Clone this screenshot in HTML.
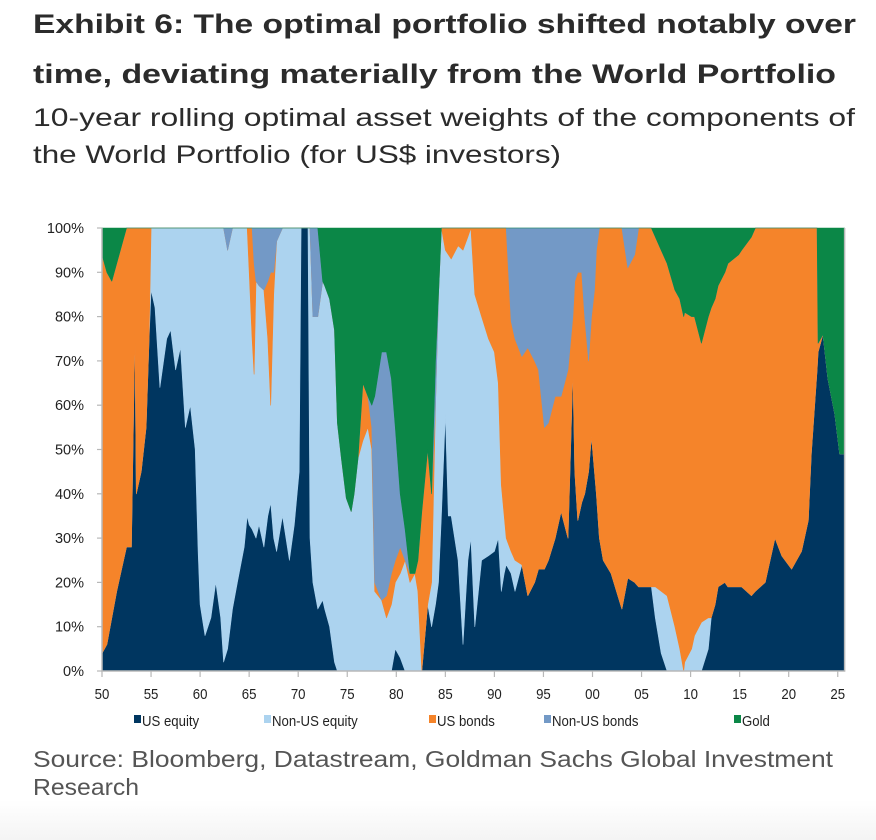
<!DOCTYPE html>
<html><head><meta charset="utf-8"><style>
html,body{margin:0;padding:0;background:#fff;}
svg{display:block;}
</style></head><body>
<svg id="chart" width="876" height="840" viewBox="0 0 876 840" xmlns="http://www.w3.org/2000/svg">
<defs><linearGradient id="bg" x1="0" y1="0" x2="0" y2="1"><stop offset="0" stop-color="#ffffff"/><stop offset="1" stop-color="#f4f4f4"/></linearGradient></defs>
<rect x="0" y="800" width="876" height="40" fill="url(#bg)"/>
<g font-family="Liberation Sans, sans-serif" fill="#2b2b2b">
<text x="33" y="33" font-size="27" font-weight="bold" textLength="823" lengthAdjust="spacingAndGlyphs">Exhibit 6: The optimal portfolio shifted notably over</text>
<text x="33" y="83" font-size="27" font-weight="bold" textLength="803" lengthAdjust="spacingAndGlyphs">time, deviating materially from the World Portfolio</text>
<text x="33" y="126" font-size="25" textLength="822" lengthAdjust="spacingAndGlyphs">10-year rolling optimal asset weights of the components of</text>
<text x="33" y="163" font-size="25" textLength="528" lengthAdjust="spacingAndGlyphs">the World Portfolio (for US$ investors)</text>
</g>
<g font-family="Liberation Sans, sans-serif" fill="#555">
<text x="33" y="767" font-size="23" textLength="800" lengthAdjust="spacingAndGlyphs">Source: Bloomberg, Datastream, Goldman Sachs Global Investment</text>
<text x="33" y="795" font-size="23" textLength="106" lengthAdjust="spacingAndGlyphs">Research</text>
</g>
<g id="plot"></g>
<g id="axes"></g>
<g id="legend"></g>
</svg>
<script>
const years=[1950,1950.5,1951,1951.5,1952,1952.5,1953,1953.35,1953.5,1954,1954.5,1954.8,1955,1955.4,1955.9,1956.6,1957,1957.5,1958,1958.5,1959,1959.5,1959.8,1960,1960.5,1961.1,1961.6,1962.1,1962.4,1962.8,1963.3,1963.8,1964.5,1964.8,1965,1965.3,1965.5,1965.7,1966,1966.5,1966.9,1967.2,1967.5,1967.8,1968.4,1969.1,1969.6,1970.1,1970.3,1971,1971.2,1971.5,1972,1972.5,1972.7,1973.2,1973.7,1974,1974.4,1974.9,1975.4,1975.7,1976.1,1976.6,1977.1,1977.5,1977.8,1978.5,1979,1979.5,1979.9,1980.4,1980.9,1981.4,1981.9,1982.2,1982.6,1983.2,1983.6,1984,1984.3,1984.6,1985,1985.3,1985.6,1986.3,1986.8,1987.3,1987.6,1988,1988.7,1989.4,1990,1990.4,1990.7,1991,1991.2,1991.7,1992.1,1992.8,1993.4,1994.1,1994.5,1995.1,1995.5,1996.2,1996.8,1997.5,1998,1998.2,1998.5,1998.9,1999.2,1999.6,1999.9,2000.2,2000.4,2000.7,2001.1,2001.9,2003,2003.6,2004.3,2004.7,2005.7,2006,2006.4,2007,2007.6,2008.4,2008.9,2009.3,2009.4,2010.1,2010.4,2011.1,2011.8,2012.1,2012.5,2012.8,2013.5,2013.8,2014.9,2015.2,2016.2,2016.6,2017.6,2018.6,2019.3,2020.3,2021.3,2022,2022.3,2022.9,2023,2023.5,2024,2024.7,2025.2,2025.7];
const usEquity=[4,6,12,18,23,28,28,77,40,45,55,75,86,82,64,75,77,68,73,55,60,50,27,15,8,12,20,12,2,5,14,20,28,35,33,32,31,30,33,28,35,38,30,27,35,25,33,45,100,100,30,20,14,16,14,10,2,0,0,0,0,0,0,0,0,0,0,0,0,0,5,3,0,0,0,0,0,15,10,15,20,35,58,35,35,25,6,25,30,10,25,26,27,30,18,22,24,22,18,24,17,20,23,23,25,30,36,30,68,45,34,38,40,45,53,45,40,30,25,22,14,21,20,19,19,19,12,4,0,0,0,0,0,0,0,0,5,12,15,19,20,19,19,19,17,18,20,30,26,23,27,34,49,68,72,76,66,58,49,49];
const nonUsEquity=[0,0,0,0,0,0,0,0,0,0,0,0,14,18,36,25,23,32,27,45,40,50,73,85,92,88,80,88,98,90,86,80,72,65,57,43,36,58,54,58,40,22,55,70,65,75,67,55,0,0,70,60,66,72,73,74,75,56,48,39,36,40,48,52,55,50,18,16,12,15,15,19,25,20,22,18,0,0,10,45,65,65,37,59,58,71,89,73,70,75,55,49,45,35,24,13,6,5,7,0,0,0,0,0,0,0,0,0,0,0,0,0,0,0,0,0,0,0,0,0,0,0,0,0,0,0,7,14,17,10,5,0,2,5,8,11,7,0,0,0,0,0,0,0,0,0,0,0,0,0,0,0,0,0,0,0,0,0,0,0,0];
const usBonds=[90,84,76,74,73,72,72,23,60,55,45,25,0,0,0,0,0,0,0,0,0,0,0,0,0,0,0,0,0,0,0,0,0,0,10,25,25,0,0,0,13,30,5,0,0,0,0,0,0,0,0,0,0,0,0,0,0,0,0,0,0,0,0,13,7,5,2,0,5,7,5,6,0,2,0,7,36,35,20,0,0,0,5,6,7,4,5,2,0,15,20,25,28,35,58,65,70,52,50,47,56,50,45,32,31,32,26,38,12,43,56,52,40,25,27,41,55,70,75,78,86,70,74,81,81,81,79,77,75,76,79,80,79,75,72,63,68,70,69,68,70,73,75,76,81,82,80,70,74,77,73,66,51,32,2,0,0,0,0,0];
const nonUsBonds=[0,0,0,0,0,0,0,0,0,0,0,0,0,0,0,0,0,0,0,0,0,0,0,0,0,0,0,0,0,5,0,0,0,0,0,0,8,12,13,14,12,10,10,3,0,0,0,0,0,0,0,20,20,0,0,0,0,0,0,0,0,0,0,0,0,5,42,56,55,44,30,12,7,0,0,0,0,0,0,10,0,0,0,0,0,0,0,0,0,0,0,0,0,0,0,0,0,21,25,29,27,30,32,45,44,38,38,32,20,12,10,10,20,30,20,14,5,0,0,0,0,9,6,0,0,0,0,0,0,0,0,0,0,0,0,0,0,0,0,0,0,0,0,0,0,0,0,0,0,0,0,0,0,0,0,0,0,0,0,0,0];
const gold=[6,10,12,8,4,0,0,0,0,0,0,0,0,0,0,0,0,0,0,0,0,0,0,0,0,0,0,0,0,0,0,0,0,0,0,0,0,0,0,0,0,0,0,0,0,0,0,0,0,0,0,0,0,12,13,16,23,44,52,61,64,60,52,35,38,40,38,28,28,34,45,60,68,78,78,75,64,50,60,30,15,0,0,0,0,0,0,0,0,0,0,0,0,0,0,0,0,0,0,0,0,0,0,0,0,0,0,0,0,0,0,0,0,0,0,0,0,0,0,0,0,0,0,0,0,0,2,5,8,14,16,20,19,20,20,26,20,18,16,13,10,8,6,5,2,0,0,0,0,0,0,0,0,0,26,24,34,42,51,51];
const seriesNames=["US equity","Non-US equity","US bonds","Non-US bonds","Gold"];
const seriesColors=["#003660","#acd3ef","#f5842a","#7399c6","#0b8747"];
const yTicks=[0,10,20,30,40,50,60,70,80,90,100];
const xTickYears=[1950,1955,1960,1965,1970,1975,1980,1985,1990,1995,2000,2005,2010,2015,2020,2025];
const xTickLabels=["50","55","60","65","70","75","80","85","90","95","00","05","10","15","20","25"];

const NS="http://www.w3.org/2000/svg";
const X0=102,XPY=9.81,Y0=671,YH=443;
const xs=y=>X0+(y-1950)*XPY;
const ys=v=>Y0-v/100*YH;
const series=[usEquity,nonUsEquity,usBonds,nonUsBonds,gold];
const plot=document.getElementById('plot');
const axes=document.getElementById('axes');
const legend=document.getElementById('legend');
const xMax=xs(years[years.length-1]);
let base=years.map(()=>0);
series.forEach((s,k)=>{
  const top=base.map((b,i)=>b+s[i]);
  let d="M"+years.map((y,i)=>xs(y).toFixed(1)+","+ys(top[i]).toFixed(1)).join("L");
  for(let i=years.length-1;i>=0;i--) d+="L"+xs(years[i]).toFixed(1)+","+ys(base[i]).toFixed(1);
  d+="Z";
  const p=document.createElementNS(NS,'path');
  p.setAttribute('d',d);
  p.setAttribute('fill',seriesColors[k]);
  p.setAttribute('stroke',seriesColors[k]);
  p.setAttribute('stroke-width','0.6');
  p.setAttribute('stroke-linejoin','round');
  
  
  plot.appendChild(p);
  base=top;
});
function mk(tag,attrs,parent){const e=document.createElementNS(NS,tag);for(const k in attrs)e.setAttribute(k,attrs[k]);parent.appendChild(e);return e;}
const frame=mk('path',{d:`M${X0},${ys(100)}V${Y0}H${xMax}V${ys(100)}`,fill:'none',stroke:'#b8b8b8','stroke-width':'1.5'},axes);


yTicks.forEach(v=>{
  const t=mk('line',{x1:X0-5,x2:X0,y1:ys(v),y2:ys(v),stroke:'#b8b8b8','stroke-width':'1.2'},axes);
  
  
  const l=mk('text',{x:84,y:ys(v)+5,'text-anchor':'end','font-family':'Liberation Sans, sans-serif','font-size':'14.5',fill:'#222'},axes);
  l.textContent=v+'%';
  
  
});
xTickYears.forEach((y,i)=>{
  const t=mk('line',{x1:xs(y),x2:xs(y),y1:Y0,y2:Y0+6,stroke:'#b8b8b8','stroke-width':'1.2'},axes);
  
  
  const l=mk('text',{x:xs(y),y:699,'text-anchor':'middle','font-family':'Liberation Sans, sans-serif','font-size':'15',fill:'#222',transform:`translate(${xs(y)},0) scale(0.88,1) translate(${-xs(y)},0)`},axes);
  l.textContent=xTickLabels[i];
  
  
});
const legX=[134,264,429,544,734];
seriesNames.forEach((n,k)=>{
  const g=mk('g',{},legend);
  
  
  mk('rect',{x:legX[k],y:715,width:7,height:8,fill:seriesColors[k]},g);
  const t=mk('text',{x:legX[k]+8,y:726,'font-family':'Liberation Sans, sans-serif','font-size':'15',fill:'#222',transform:`translate(${legX[k]+8},0) scale(0.88,1) translate(${-(legX[k]+8)},0)`},g);
  t.textContent=n;
});
</script>
</body></html>
